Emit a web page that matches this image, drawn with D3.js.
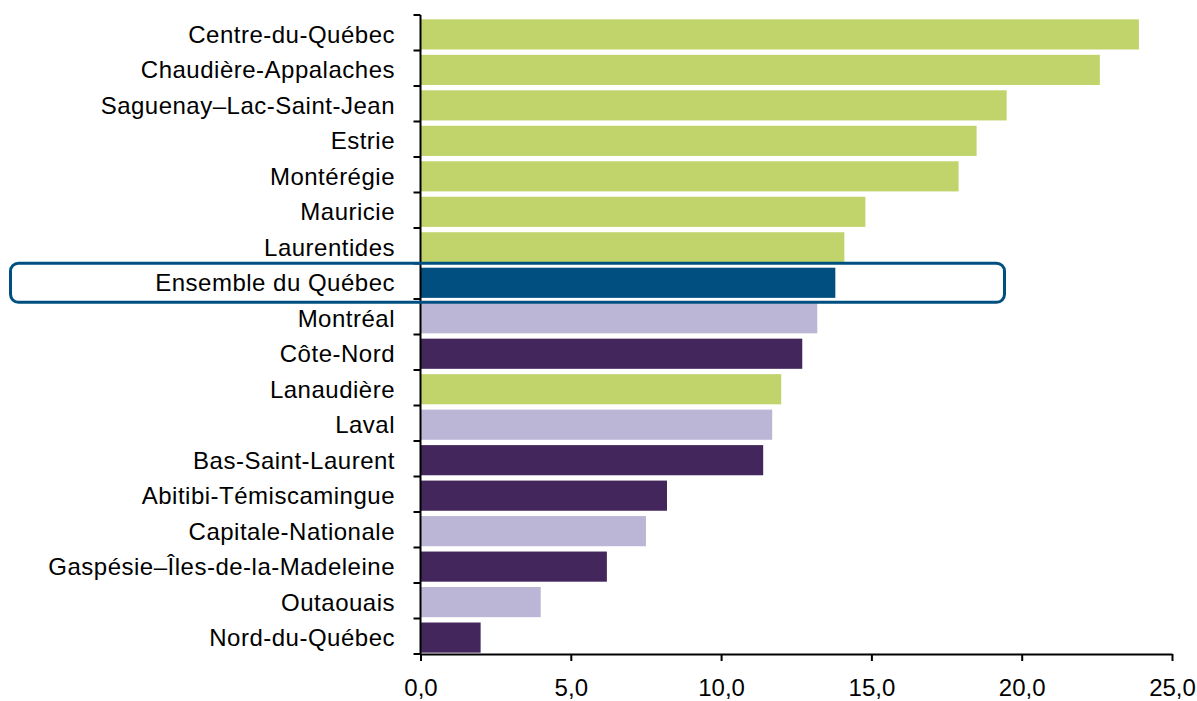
<!DOCTYPE html>
<html>
<head>
<meta charset="utf-8">
<script src="https://cdn.jsdelivr.net/npm/d3@7"></script>
<style>
  body { margin: 0; background: #fff; }
  text { font-family: "Liberation Sans", Arial, sans-serif; fill: #000; }
</style>
</head>
<body>
<div id="chart"></div>
<script>
const regions = [
  "Centre-du-Québec", "Chaudière-Appalaches", "Saguenay–Lac-Saint-Jean", "Estrie",
  "Montérégie", "Mauricie", "Laurentides", "Ensemble du Québec", "Montréal",
  "Côte-Nord", "Lanaudière", "Laval", "Bas-Saint-Laurent", "Abitibi-Témiscamingue",
  "Capitale-Nationale", "Gaspésie–Îles-de-la-Madeleine", "Outaouais", "Nord-du-Québec"
]
const values = [23.9, 22.6, 19.5, 18.5, 17.9, 14.8, 14.1, 13.8, 13.2, 12.7, 12.0, 11.7, 11.4, 8.2, 7.5, 6.2, 4.0, 2.0]
const groups = ["g", "g", "g", "g", "g", "g", "g", "q", "lp", "dp", "g", "lp", "dp", "dp", "lp", "dp", "lp", "dp"]
const xTicks = [0, 5, 10, 15, 20, 25]

const width = 1197
const height = 701
const margin = {top: 15, right: 25, bottom: 47, left: 420.5}

const color = d3.scaleOrdinal()
  .domain(["g", "lp", "dp", "q"])
  .range(["#c1d46c", "#bcb6d6", "#43265c", "#004f80"])

const svg = d3.select("#chart")
  .append("svg")
  .attr("width", width)
  .attr("height", height)

const x = d3.scaleLinear()
  .domain([0, 25])
  .range([margin.left, 1172])

const y = d3.scaleBand()
  .domain(regions)
  .range([margin.top, height - margin.bottom])
  .paddingInner(0.15)
  .paddingOuter(0.08)

// bars
svg.append("g")
  .selectAll("rect")
  .data(regions)
  .enter()
  .append("rect")
  .attr("x", x(0))
  .attr("y", d => y(d) + 1.5)
  .attr("width", (d, i) => x(values[i]) - x(0))
  .attr("height", y.bandwidth())
  .attr("fill", (d, i) => color(groups[i]))

// y axis: ticks between categories
const yEdges = d3.range(regions.length + 1).map(i => margin.top + i * (height - margin.bottom - margin.top) / regions.length)
const yAxis = svg.append("g")
yAxis.append("line")
  .attr("x1", x(0)).attr("x2", x(0))
  .attr("y1", yEdges[0]).attr("y2", yEdges[yEdges.length - 1])
  .attr("stroke", "#000").attr("stroke-width", 2)
yAxis.selectAll(".tick")
  .data(yEdges)
  .enter()
  .append("line")
  .attr("x1", x(0) - 7).attr("x2", x(0))
  .attr("y1", d => d).attr("y2", d => d)
  .attr("stroke", "#000").attr("stroke-width", 2)
yAxis.selectAll(".lab")
  .data(regions)
  .enter()
  .append("text")
  .attr("x", 395)
  .attr("y", d => y(d) + y.bandwidth() / 2 + 1.5)
  .attr("dy", "0.35em")
  .attr("text-anchor", "end")
  .style("font-size", "24px")
  .style("letter-spacing", "0.5px")
  .text(d => d)

// x axis
const xAxis = d3.axisBottom(x)
  .tickValues(xTicks)
  .tickSize(7)
  .tickSizeOuter(0)
  .tickFormat(d => d3.format(".1f")(d).replace(".", ","))

const gx = svg.append("g")
  .attr("transform", `translate(0,${height - margin.bottom})`)
  .call(xAxis)
gx.select(".domain").attr("stroke", "#000").attr("stroke-width", 2)
gx.selectAll(".tick line").attr("stroke", "#000").attr("stroke-width", 2)
gx.selectAll(".tick text")
  .attr("y", 25)
  .attr("dy", "0.71em")
  .style("font-size", "24px")
  .style("font-family", "'Liberation Sans', Arial, sans-serif")
  .attr("fill", "#000")

// highlight box round "Ensemble du Québec"
const hl = "Ensemble du Québec"
svg.append("rect")
  .attr("x", 10.5)
  .attr("y", y(hl) - 3)
  .attr("width", 994)
  .attr("height", y.bandwidth() + 9)
  .attr("rx", 8)
  .attr("fill", "none")
  .attr("stroke", "#004f80")
  .attr("stroke-width", 3)
</script>
</body>
</html>
